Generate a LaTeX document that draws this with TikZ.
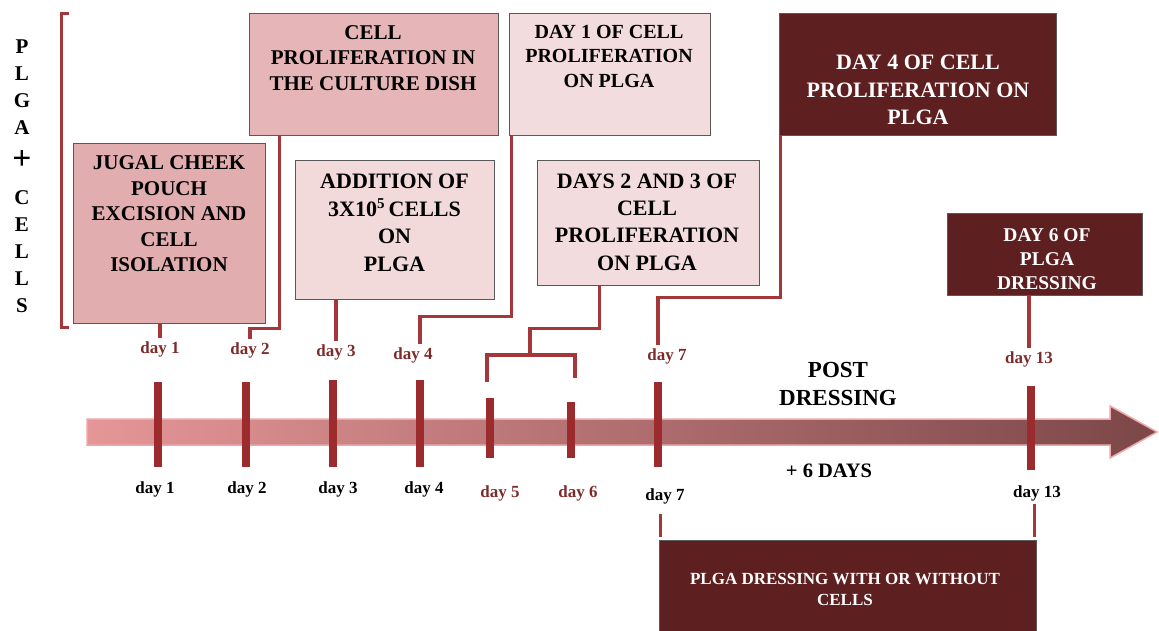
\documentclass[tikz,border=0pt]{standalone}
\usepackage{fontspec}
\setmainfont{Liberation Serif}
\usetikzlibrary{positioning,calc}

\definecolor{barred}{HTML}{9C2B2E}
\definecolor{wirered}{HTML}{A5363A}
\definecolor{labred}{HTML}{7D2C2C}
\definecolor{rose}{HTML}{E2ADAF}
\definecolor{roselight}{HTML}{F3DCDD}
\definecolor{wine}{HTML}{5E1F20}
\definecolor{arrowl}{HTML}{E59697}
\definecolor{arrowr}{HTML}{7C4748}
\definecolor{arrowedge}{HTML}{EFA6A8}

\tikzset{
  stage/.style={draw=gray!70!black, line width=0.8pt, inner sep=0pt},
  txt/.style={align=center, font=\bfseries\fontsize{21}{25.5}\selectfont},
  daybar/.style={fill=barred, minimum width=8pt, inner sep=0pt},
  wire/.style={draw=wirered, line width=3.2pt},
  daytop/.style={text=labred, inner sep=3pt, font=\bfseries\fontsize{17}{17}\selectfont},
  daybot/.style={inner sep=3pt, font=\bfseries\fontsize{17}{17}\selectfont},
}

\begin{document}
\begin{tikzpicture}[x=1pt,y=-1pt]
  \useasboundingbox (0,0) rectangle (1159,631);

  % time arrow
  \shade[left color=arrowl, right color=arrowr, draw=arrowedge, line width=1.5pt]
    (87,419) -- (1110,419) -- (1110,406) -- (1157,432) -- (1110,458) -- (1110,445) -- (87,445) -- cycle;

  % side title and brace
  \node[align=center, font=\bfseries\fontsize{21}{27}\selectfont] (side) at (22,176)
    {P\\L\\G\\A\\[8pt]\scalebox{1.6}{+}\\[8pt]C\\E\\L\\L\\S};
  \draw[wire, line width=3pt] (69,14) -- (61,14) -- (61,327) -- (69,327);

  % stage boxes
  \node[stage, fill=rose, minimum width=192pt, minimum height=180pt] (jugal) at (169,233) {};
  \node[txt] (jugaltxt) at (169,214) {JUGAL CHEEK\\POUCH\\EXCISION AND\\CELL\\ISOLATION};

  \node[stage, fill=rose!90!white, minimum width=249pt, minimum height=122pt] (prolif) at (373.5,74) {};
  \node[txt] (prolitxt) at (373,58) {CELL\\PROLIFERATION IN\\THE CULTURE DISH};

  \node[stage, fill=roselight!95!rose, minimum width=199pt, minimum height=139pt] (addition) at (394.5,229.5) {};
  \node[txt, font=\bfseries\fontsize{22}{27.5}\selectfont] (addtxt) at (394.5,223)
    {ADDITION OF\\3X10\textsuperscript{\fontsize{15}{15}\selectfont 5}\,CELLS\\ON\\PLGA};

  \node[stage, fill=roselight, minimum width=201pt, minimum height=122pt] (dayone) at (609.5,74) {};
  \node[txt, font=\bfseries\fontsize{20}{24.5}\selectfont] (dayonetxt) at (609,56)
    {DAY 1 OF CELL\\PROLIFERATION\\ON PLGA};

  \node[stage, fill=roselight, minimum width=222pt, minimum height=125pt] (daystwo) at (648,222.5) {};
  \node[txt, font=\bfseries\fontsize{22}{27.3}\selectfont] (daystwotxt) at (647,222)
    {DAYS 2 AND 3 OF\\CELL\\PROLIFERATION\\ON PLGA};

  \node[stage, fill=wine, minimum width=277pt, minimum height=122pt] (dayfour) at (917.5,74) {};
  \node[txt, text=white, font=\bfseries\fontsize{22}{27.5}\selectfont] (dayfourtxt) at (918,90)
    {DAY 4 OF CELL\\PROLIFERATION ON\\PLGA};

  \node[stage, fill=wine, minimum width=195pt, minimum height=82pt] (daysix) at (1044.5,254) {};
  \node[txt, text=white, font=\bfseries\fontsize{19.5}{24}\selectfont] (daysixtxt) at (1047,259)
    {DAY 6 OF\\PLGA\\DRESSING};

  \node[stage, fill=wine, minimum width=377pt, minimum height=91pt] (dress) at (847.5,585.5) {};
  \node[txt, text=white, font=\bfseries\fontsize{17}{21}\selectfont] (dresstxt) at (845,589)
    {PLGA DRESSING WITH OR WITHOUT\\CELLS};

  % day bars on the arrow
  \node[daybar, minimum height=85pt] (t1) at (158,424.5) {};
  \node[daybar, minimum height=85pt] (t2) at (246,424.5) {};
  \node[daybar, minimum height=87pt] (t3) at (333,423.5) {};
  \node[daybar, minimum height=87pt] (t4) at (420,423.5) {};
  \node[daybar, minimum height=60pt] (t5) at (490,428) {};
  \node[daybar, minimum height=56pt] (t6) at (571,430) {};
  \node[daybar, minimum height=85pt] (t7) at (658,424.5) {};
  \node[daybar, minimum height=84pt] (t13) at (1031,428) {};

  % day labels above
  \node[daytop] (u1) at (160,349) {day 1};
  \node[daytop] (u2) at (250,350) {day 2};
  \node[daytop] (u3) at (336,352) {day 3};
  \node[daytop] (u4) at (413,355) {day 4};
  \node[daytop] (u7) at (667,356) {day 7};
  \node[daytop] (u13) at (1029,359) {day 13};

  % day labels below
  \node[daybot] (l1) at (155,489) {day 1};
  \node[daybot] (l2) at (247,489) {day 2};
  \node[daybot] (l3) at (338,489) {day 3};
  \node[daybot] (l4) at (424,489) {day 4};
  \node[daybot, text=labred] (l5) at (500,493) {day 5};
  \node[daybot, text=labred] (l6) at (578,493) {day 6};
  \node[daybot] (l7) at (665,496) {day 7};
  \node[daybot] (l13) at (1037,493) {day 13};

  \node[align=center, font=\bfseries\fontsize{23}{28}\selectfont] (post) at (838,384) {POST\\DRESSING};
  \node[font=\bfseries\fontsize{20.5}{20.5}\selectfont] (plus) at (829,471) {+ 6 DAYS};

  % connectors
  \coordinate (fork) at (530,355);
  \coordinate (leg5) at (487,382);
  \coordinate (leg6) at (575,378);
  \draw[wire] (jugal.south -| u1.north) -- (u1.north);
  \draw[wire] ([xshift=31pt]prolif.south west) -- ++(0,193) -| (u2.north);
  \draw[wire] (addition.south -| u3.north) -- (u3.north);
  \draw[wire] ([xshift=3pt]dayone.south west) -- ++(0,181) -| (t4 |- u4.north);
  \draw[wire] ([xshift=63pt]daystwo.south west) -- ++(0,43) -| (fork);
  \draw[wire] (leg5) |- (fork) -| (leg6);
  \draw[wire] ([xshift=2pt]dayfour.south west) -- ++(0,162) -| (t7 |- u7.north);
  \draw[wire] (daysix.south -| u13.north) -- (u13.north);
  \draw[wire, shorten <=7pt, shorten >=3pt] ([xshift=2pt]dress.north west |- l7.south) -- ([xshift=2pt]dress.north west);
  \draw[wire, shorten >=3pt] ([xshift=-2pt]dress.north east |- l13.south) -- ([xshift=-2pt]dress.north east);
\end{tikzpicture}
\end{document}
